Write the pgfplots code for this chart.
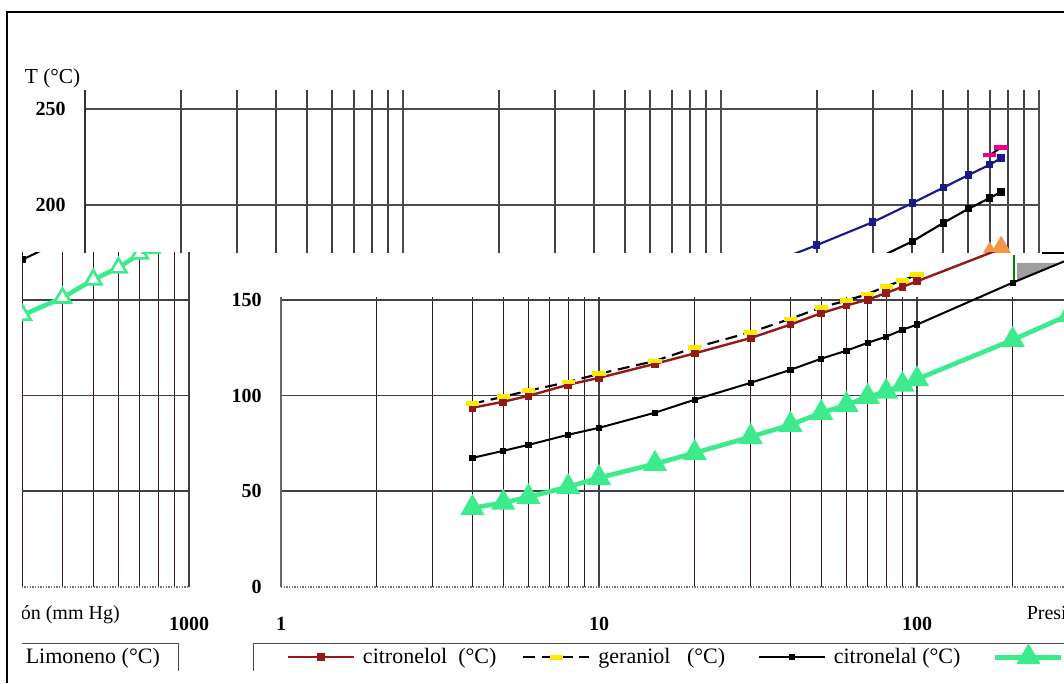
\documentclass[border=0pt]{standalone}
\usepackage{pgfplots}
\pgfplotsset{compat=1.18}
\usepackage{pgfplotstable}
\usepackage{fontspec}
\setmainfont{Liberation Serif}

\pgfplotstableread{
p T
4 93.6
5 96.7
6 99.8
8 105.6
10 109.2
15 116.5
20 122
30 130
40 137
50 143
60 147
70 150
80 153.5
90 156.7
100 159.6
200 179
300 191
400 201
500 209
600 215.6
700 221
760 224.5
}\citronelol

\pgfplotstableread{
p T
4 95.7
5 99.3
6 102.5
8 107
10 111.3
15 118
20 125
30 133
40 140
50 146
60 149.5
70 153
80 157
90 160
100 163
150 nan
700 226
760 230
}\geraniol

\pgfplotstableread{
p T
4 67.4
5 71.1
6 74.2
8 79.5
10 83.1
15 91
20 97.8
30 106.6
40 113.4
50 119.2
60 123.4
70 127.5
80 130.7
90 134.3
100 137
200 158.9
300 171
400 181
500 190.6
600 198
700 203.6
760 206.8
}\citronelal

\pgfplotstableread{
p T
4 41.3
5 44
6 47
8 52.3
10 57
15 64.3
20 70
30 78.4
40 84.7
50 90.9
60 95.1
70 99.3
80 102
90 105.6
100 108.5
200 129
300 142
400 151
500 160.5
600 166.7
700 174
760 177
}\limoneno

\definecolor{dred}{RGB}{150,25,25}
\definecolor{mint}{RGB}{60,235,140}
\definecolor{navyb}{RGB}{25,25,140}
\definecolor{orng}{RGB}{245,150,70}
\definecolor{yel}{RGB}{250,235,0}
\definecolor{gridred}{RGB}{55,25,25}

\pgfplotsset{legend image code/.code={\draw[mark repeat=2,mark phase=2,#1] plot coordinates {(0pt,0pt) (24.75pt,0pt) (49.5pt,0pt)};}}

\newcommand{\chart}{%
\addlegendimage{empty legend}
\addlegendentry{\makebox[23pt]{}}
\addplot[s1] table[x=p,y=T] {\citronelol};
\addlegendentry{\makebox[123.5pt][l]{\hspace{5pt}citronelol\ \ (°C)}}
\addplot[s2] table[x=p,y=T] {\geraniol};
\addlegendentry{\makebox[123.5pt][l]{\hspace{5pt}geraniol\ \ \ (°C)}}
\addplot[s3] table[x=p,y=T] {\citronelal};
\addlegendentry{\makebox[123.5pt][l]{\hspace{5pt}citronelal (°C)}}
\addplot[s4] table[x=p,y=T] {\limoneno};
\addlegendentry{\makebox[118pt][l]{\hspace{5pt}Limoneno (°C)}}
\node[anchor=west, font=\fontsize{15}{15}\selectfont] at (axis cs:214,-14.6) {Presión (mm Hg)};
\node[anchor=east, font=\fontsize{16}{16}\selectfont] at (axis cs:1,266) {T (°C)};
}

\newcommand{\axisopts}{%
    scale only axis, width=715.5pt, height=373.5pt,
    anchor=south west,
    xmode=log, xmin=1, xmax=1000, ymin=0, ymax=260,
    xtick={1,10,100,1000}, xticklabels={1,10,100,1000},
    minor xtick={2,3,4,5,6,7,8,9,20,30,40,50,60,70,80,90,200,300,400,500,600,700,800,900},
    ytick={50,100,150,200,250}, yticklabels={50,100,150,200,250},
    extra y ticks={0}, extra y tick labels={0}, extra y tick style={grid=none},
    major tick length=0pt, minor tick length=0pt,
    major grid style={black!75, line width=1.3pt},
    minor grid style={gridred, line width=0.9pt},
    axis x line*=bottom, axis y line*=left,
    x axis line style={-, black!55, densely dotted, line width=1pt},
    tick label style={font=\bfseries\fontsize{15}{15}\selectfont},
    yticklabel style={xshift=-11pt},
    xticklabel style={yshift=-19pt},
    clip=false,
    legend columns=5,
    legend style={at={(0,0)}, anchor=north west, xshift=-21pt, yshift=-42pt,
      draw=black!70, inner xsep=0pt, inner ysep=3pt,
      font=\fontsize{16.5}{18}\selectfont, nodes={inner sep=1pt}},
    unbounded coords=jump}

\newcommand{\upperstyles}{\pgfplotsset{
 s1/.style={navyb, line width=1.6pt, mark=square*, mark size=2pt},
 s2/.style={black, line width=1.6pt, dash pattern=on 9pt off 5pt, mark=-, mark size=5pt, mark options={solid, magenta, line width=3.5pt}},
 s3/.style={black, line width=1.6pt, mark=square*, mark size=2pt},
 s4/.style={orng, line width=3pt, mark=triangle*, mark size=7pt}}}

\newcommand{\lowerstyles}{\pgfplotsset{
 s1/.style={dred, line width=1.8pt, mark=square*, mark size=2pt, mark options={solid}},
 s2/.style={black, line width=1.6pt, dash pattern=on 9pt off 5pt, mark=-, mark size=5pt, mark options={solid, yel, line width=3.5pt}},
 s3/.style={black, line width=1.5pt, mark=square*, mark size=1.6pt},
 s4/.style={mint, line width=3.5pt, mark=triangle*, mark size=7pt, mark options={solid}}}}

\begin{document}
\begin{tikzpicture}
\useasboundingbox (0,0) rectangle (798pt,512.25pt);

% upper piece
\begin{scope}
\clip (11.25pt,322.5pt) rectangle (798pt,501.75pt);
\upperstyles
\edef\tmp{\noexpand\begin{axis}[\unexpanded\expandafter{\axisopts}, grid=both, major grid style={black!70, line width=1.5pt}, minor grid style={black!75, line width=1.5pt}, y axis line style={-, black!80, line width=1.3pt}, at={(63.75pt,71.25pt)}]}\tmp
\chart
\end{axis}
\end{scope}

% small artefacts at the seam
\fill[gray!75] (762.75pt,315pt) -- (793.5pt,315pt) -- (762.75pt,300.75pt) -- cycle;
\draw[green!50!black, line width=1.5pt] (760.5pt,321pt) -- (760.5pt,300pt);
\draw[black, line width=2pt] (781.5pt,322.5pt) -- (798pt,322.5pt);

% lower piece, full
\begin{scope}
\clip (161.25pt,9.75pt) rectangle (798pt,288.75pt);
\lowerstyles
\edef\tmp{\noexpand\begin{axis}[\unexpanded\expandafter{\axisopts}, grid=both, y axis line style={-, black!60, line width=1pt}, at={(210.75pt,72pt)}]}\tmp
\chart
\end{axis}
\end{scope}

% lower piece, strip without grid
\begin{scope}
\clip (161.25pt,288.75pt) rectangle (798pt,322.5pt);
\lowerstyles
\edef\tmp{\noexpand\begin{axis}[\unexpanded\expandafter{\axisopts}, grid=none, y axis line style={draw=none}, at={(210.75pt,72pt)}]}\tmp
\chart
\end{axis}
\end{scope}

% left piece
\begin{scope}
\clip (16.5pt,9.75pt) rectangle (161.25pt,322.5pt);
\lowerstyles
\pgfplotsset{s4/.style={mint, line width=3.5pt, mark=triangle*, mark size=7pt, mark options={solid, fill=white, draw=mint, line width=2pt}}}
\edef\tmp{\noexpand\begin{axis}[\unexpanded\expandafter{\axisopts}, grid=both, y axis line style={-, black!60, line width=1pt}, at={(-573.75pt,72pt)}]}\tmp
\chart
\end{axis}
\end{scope}

% outer frame
\draw[line width=2pt] (5.25pt,0pt) -- (5.25pt,503.25pt) -- (798pt,503.25pt);
\end{tikzpicture}
\end{document}
